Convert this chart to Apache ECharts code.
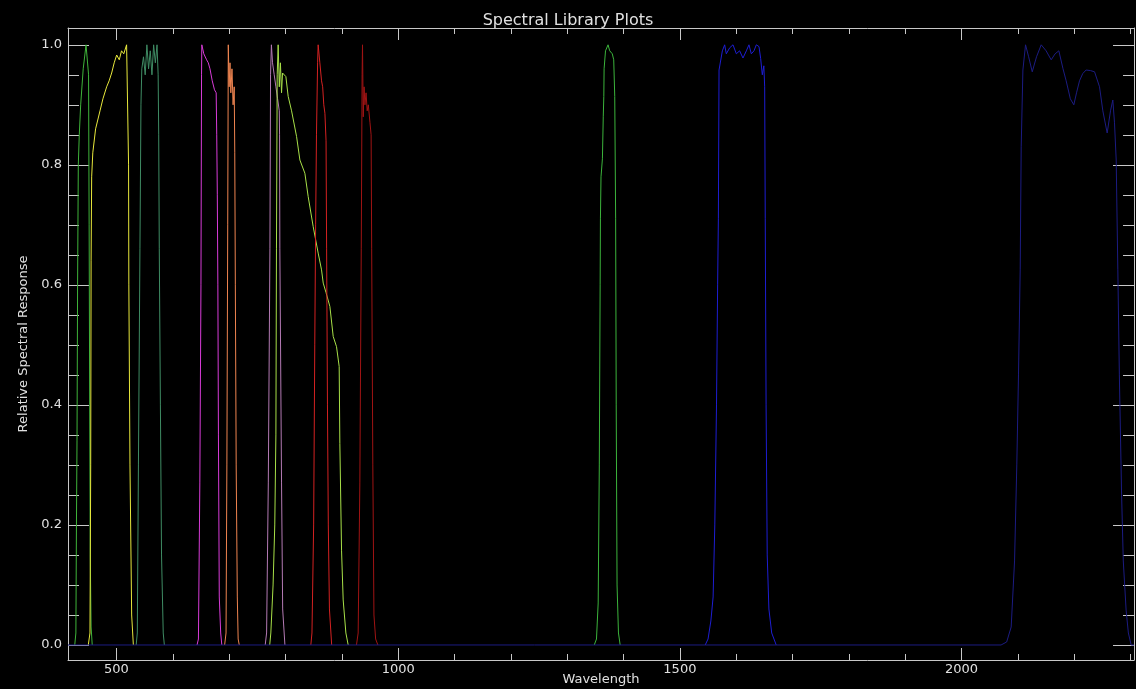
<!DOCTYPE html>
<html>
<head>
<meta charset="utf-8">
<title>Spectral Library Plots</title>
<script src="https://cdn.jsdelivr.net/npm/echarts@6/dist/echarts.min.js"></script>
<style>
  html, body { margin: 0; padding: 0; background: #000; }
  #chart { width: 1136px; height: 689px; }
</style>
</head>
<body>
<div id="chart"></div>
<script>
// axis ranges and ticks
var wlMin = 414, wlMax = 2306;
var respMin = -0.025, respMax = 1.028;
var xMajor = [500, 1000, 1500, 2000];
var xMinor = [500, 600, 700, 800, 900, 1000, 1100, 1200, 1300, 1400, 1500, 1600, 1700, 1800, 1900, 2000, 2100, 2200, 2300];
var yMajor = [0, 0.2, 0.4, 0.6, 0.8, 1.0];
var yMinor = [0, 0.05, 0.1, 0.15, 0.2, 0.25, 0.3, 0.35, 0.4, 0.45, 0.5, 0.55, 0.6, 0.65, 0.7, 0.75, 0.8, 0.85, 0.9, 0.95, 1.0];

// band responses, [wavelength, relative response]
var b1 = [[426,0],[428,0.02],[429,0.2],[430,0.34],[431,0.6],[432.3,0.8],[434,0.85],[436.5,0.9],[441,0.96],[446,1.0],[449.5,1.0],[450.5,0.95],[451.5,0.7],[452.5,0.4],[453.5,0.15],[455,0.03],[457,0]];
var b2 = [[450,0],[453,0.02],[454.3,0.3],[455,0.64],[456,0.78],[458,0.82],[463,0.86],[470.8,0.89],[476,0.91],[482.6,0.93],[487,0.94],[491.5,0.953],[496,0.97],[500.4,0.983],[505,0.975],[509,0.99],[513,0.985],[518,1.0],[521,1.0],[521.5,0.8],[522,0.6],[524,0.3],[527,0.05],[530,0]];
var b3 = [[535,0],[537,0.02],[539,0.3],[541.7,0.66],[543.5,0.9],[545,0.96],[548,0.98],[551,0.95],[554,1.0],[557,0.96],[560,0.99],[563,0.95],[566,1.0],[569,0.97],[572,1.0],[574,0.95],[575,0.85],[576,0.66],[578,0.4],[580,0.15],[583,0.02],[585,0]];
var b4 = [[643,0],[645.5,0.01],[648,0.27],[650,0.6],[651,0.95],[651.5,1.0],[655,0.985],[660,0.975],[663,0.97],[666,0.96],[670,0.94],[674,0.925],[677,0.92],[678,0.85],[679,0.75],[680,0.6],[681,0.35],[682.5,0.08],[685,0.02],[687,0]];
var b5 = [[692,0],[694.5,0.02],[696,0.3],[697.5,0.7],[698.5,1.0],[700,0.93],[701.5,0.97],[703,0.92],[705,0.96],[707,0.9],[709,0.93],[710,0.82],[711,0.6],[712.5,0.3],[714.5,0.08],[716,0.01],[718,0]];
var b7 = [[764,0],[766.5,0.02],[769.5,0.27],[772.4,0.66],[773.5,0.95],[775,1.0],[777,0.97],[780,0.95],[783,0.93],[786,0.91],[789,0.89],[789.5,0.85],[790,0.66],[793,0.27],[795,0.06],[799,0]];
var b8 = [[772,0],[774,0.02],[778,0.1],[781,0.2],[783,0.35],[784,0.66],[785.3,0.95],[787,1.0],[789,0.93],[791,0.97],[793,0.92],[794.8,0.953],[800.7,0.947],[804.8,0.914],[810.8,0.89],[819.7,0.847],[825.6,0.808],[834.4,0.786],[840.3,0.747],[849.2,0.697],[858,0.653],[864,0.625],[867,0.603],[872,0.587],[878.8,0.564],[884.7,0.514],[890.6,0.497],[895.3,0.464],[896.5,0.336],[899.5,0.158],[902.4,0.075],[907.2,0.02],[911.3,0]];
var b8a = [[845,0],[847,0.02],[850,0.2],[852,0.5],[853.5,0.7],[855,0.85],[857,0.97],[858,1.0],[861,0.97],[864,0.94],[866,0.93],[868,0.9],[870,0.886],[872,0.84],[873,0.66],[874.5,0.4],[876,0.2],[878,0.06],[882,0]];
var b9 = [[926,0],[929,0.02],[932,0.27],[934.5,0.66],[936,0.95],[936.7,1.0],[938,0.88],[939.5,0.93],[941,0.9],[943,0.92],[945,0.89],[947,0.9],[950,0.87],[952,0.85],[953,0.66],[955,0.3],[957,0.05],[960,0.01],[964,0]];
var b10 = [[1348,0],[1352,0.01],[1355,0.07],[1357,0.3],[1358.5,0.6],[1359,0.71],[1360,0.78],[1362.5,0.81],[1364,0.88],[1365,0.914],[1365.5,0.96],[1368,0.99],[1372.5,1.0],[1375.5,0.99],[1380,0.985],[1382.6,0.975],[1384.4,0.914],[1386,0.71],[1387,0.4],[1388.5,0.1],[1391,0.02],[1394,0]];
var b11 = [[1545,0],[1550,0.01],[1555,0.04],[1559,0.08],[1562,0.2],[1565,0.4],[1567,0.6],[1568.3,0.71],[1569.5,0.958],[1575.4,0.99],[1579.5,1.0],[1582.4,0.985],[1588.4,0.995],[1594.3,1.0],[1600.2,0.985],[1606,0.99],[1612,0.978],[1618,0.99],[1622.6,1.0],[1626.8,0.985],[1631.5,0.99],[1635.7,1.0],[1640.4,0.997],[1643.4,0.977],[1646.3,0.95],[1649,0.965],[1650.5,0.93],[1651.5,0.71],[1653,0.4],[1655,0.15],[1658,0.06],[1663,0.02],[1671,0]];
var b12 = [[414,0],[2070,0],[2080,0.005],[2088,0.03],[2094,0.14],[2098,0.3],[2101,0.45],[2104,0.625],[2105.8,0.83],[2108.8,0.958],[2113.5,1.0],[2119,0.98],[2125.4,0.955],[2133,0.98],[2141.3,1.0],[2150,0.99],[2159,0.975],[2166,0.985],[2172.6,0.99],[2180,0.96],[2185.6,0.94],[2193,0.91],[2199.2,0.9],[2204,0.92],[2209.3,0.94],[2215,0.952],[2221,0.958],[2229,0.957],[2236,0.955],[2244.8,0.93],[2250.7,0.89],[2258.4,0.853],[2264.3,0.89],[2268.4,0.908],[2271.4,0.87],[2274.4,0.808],[2277.3,0.625],[2280,0.45],[2284,0.25],[2287,0.14],[2292,0.058],[2296,0.02],[2301,0],[2306,0]];

var bandNames = ['B1', 'B2', 'B3', 'B4', 'B5', 'B7', 'B8', 'B8A', 'B9', 'B10', 'B11', 'B12'];
var bandData = [b1, b2, b3, b4, b5, b7, b8, b8a, b9, b10, b11, b12];
var bandColors = ['#3fb43a', '#e8e83c', '#3f8c64', '#d83cd8', '#ee8450', '#b47ab4', '#a8e048', '#d42222', '#a01414', '#3cb43c', '#1e1ed2', '#1c1c82'];

var axisColor = '#c8c8c8';
var textColor = '#e0e0e0';
var font = 'DejaVu Sans';

var series = bandData.map(function (d, i) {
  return {
    name: bandNames[i],
    type: 'line',
    data: d,
    showSymbol: false,
    symbol: 'none',
    lineStyle: { color: bandColors[i], width: 1 },
    silent: true
  };
});

// one axis for line + major ticks + labels, one overlay for minor ticks
function xAx(pos, ticks, len, main) {
  return {
    type: 'value', min: wlMin, max: wlMax, position: pos,
    axisLine: { show: main, onZero: false, lineStyle: { color: axisColor, width: 1 } },
    axisTick: { show: true, inside: true, length: len, customValues: ticks, lineStyle: { color: axisColor } },
    axisLabel: (main && pos === 'bottom')
      ? { show: true, customValues: xMajor, color: textColor, fontFamily: font, fontSize: 13, margin: 3,
          formatter: function (v) { return String(v); } }
      : { show: false },
    splitLine: { show: false },
    name: (main && pos === 'bottom') ? 'Wavelength' : '',
    nameLocation: 'middle', nameGap: 13, nameMoveOverlap: false,
    nameTextStyle: { color: textColor, fontFamily: font, fontSize: 13 }
  };
}
function yAx(pos, ticks, len, main) {
  return {
    type: 'value', min: respMin, max: respMax, position: pos,
    axisLine: { show: main, onZero: false, lineStyle: { color: axisColor, width: 1 } },
    axisTick: { show: true, inside: true, length: len, customValues: ticks, lineStyle: { color: axisColor } },
    axisLabel: (main && pos === 'left')
      ? { show: true, customValues: yMajor, color: textColor, fontFamily: font, fontSize: 13, margin: 6,
          formatter: function (v) { return v.toFixed(1); } }
      : { show: false },
    splitLine: { show: false },
    name: (main && pos === 'left') ? 'Relative Spectral Response' : '',
    nameLocation: 'middle', nameGap: 38, nameRotate: 90, nameMoveOverlap: false,
    nameTextStyle: { color: textColor, fontFamily: font, fontSize: 13 }
  };
}

var chart = echarts.init(document.getElementById('chart'));
chart.setOption({
  backgroundColor: '#000',
  animation: false,
  title: {
    text: 'Spectral Library Plots', left: 'center', top: 8,
    textStyle: { color: textColor, fontFamily: font, fontSize: 16, fontWeight: 'normal' }
  },
  grid: { left: 68, right: 2, top: 28, bottom: 29, containLabel: false, outerBoundsMode: 'none' },
  xAxis: [
    xAx('bottom', xMajor, 12, true),
    xAx('bottom', xMinor, 6, false),
    xAx('top', xMajor, 12, true),
    xAx('top', xMinor, 6, false)
  ],
  yAxis: [
    yAx('left', yMajor, 21, true),
    yAx('left', yMinor, 11, false),
    yAx('right', yMajor, 21, true),
    yAx('right', yMinor, 11, false)
  ],
  series: series
});
</script>
</body>
</html>
